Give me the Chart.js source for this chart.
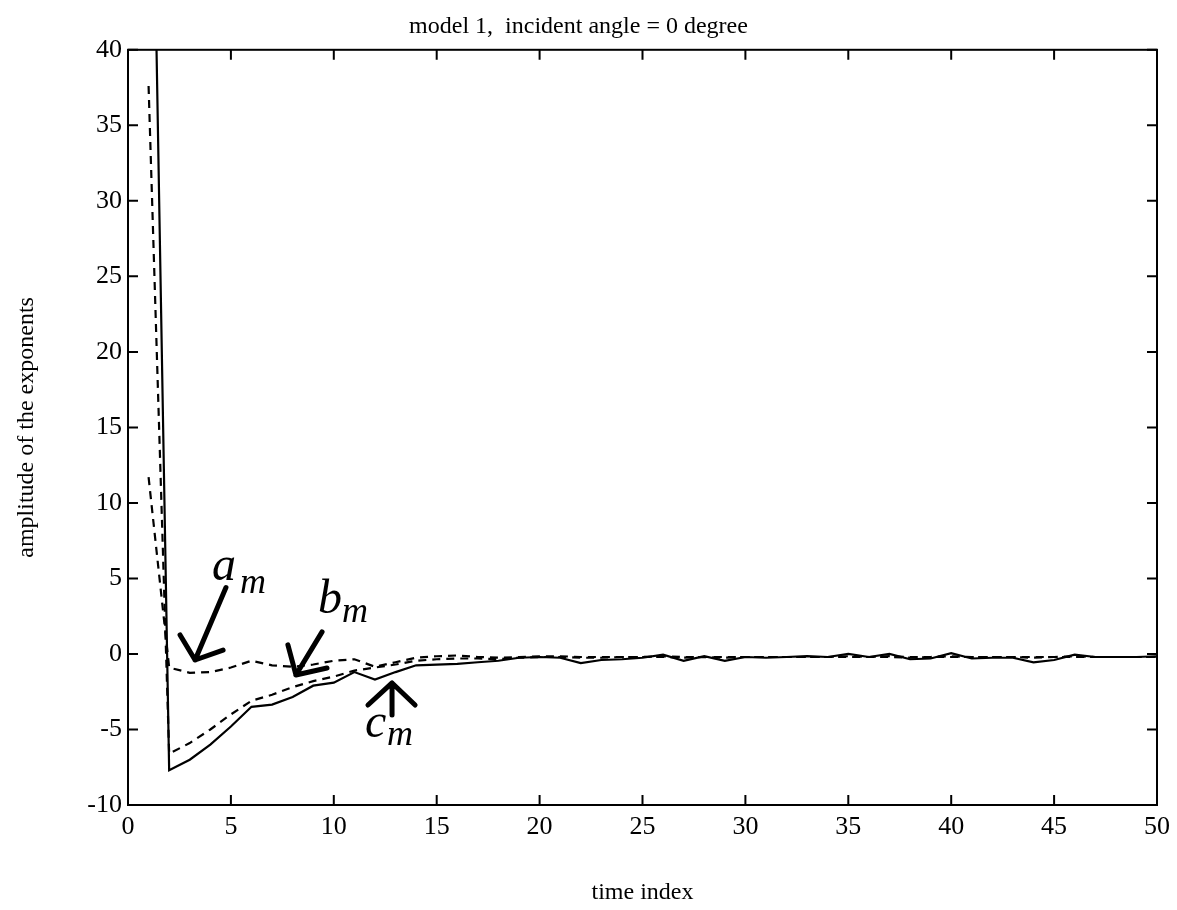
<!DOCTYPE html>
<html><head><meta charset="utf-8">
<script src="https://cdn.jsdelivr.net/npm/chart.js@4.4.1/dist/chart.umd.min.js"></script>
<style>html,body{margin:0;padding:0;background:#fff;}</style>
</head><body>
<canvas id="c" width="1177" height="910" style="display:block;width:1177px;height:910px"></canvas>
<script>
// ---- data ----
const timeIndex = [1,2,3,4,5,6,7,8,9,10,11,12,13,14,15,16,17,18,19,20,21,22,23,24,25,26,27,28,29,30,31,32,33,34,35,36,37,38,39,40,41,42,43,44,45,46,47,48,49,50];
const amValues = [11.7,-0.9,-1.25,-1.2,-0.9,-0.45,-0.75,-0.85,-0.7,-0.45,-0.35,-0.85,-0.55,-0.25,-0.15,-0.1,-0.2,-0.25,-0.2,-0.15,-0.15,-0.2,-0.2,-0.2,-0.2,-0.15,-0.2,-0.2,-0.2,-0.2,-0.2,-0.2,-0.2,-0.2,-0.15,-0.2,-0.15,-0.2,-0.2,-0.15,-0.2,-0.2,-0.2,-0.2,-0.2,-0.15,-0.2,-0.2,-0.2,-0.2];
const bmValues = [37.6,-6.6,-5.9,-5.0,-4.0,-3.1,-2.7,-2.2,-1.8,-1.5,-1.1,-0.9,-0.7,-0.45,-0.35,-0.3,-0.3,-0.35,-0.25,-0.2,-0.2,-0.25,-0.25,-0.2,-0.2,-0.2,-0.25,-0.2,-0.25,-0.2,-0.2,-0.2,-0.2,-0.2,-0.2,-0.2,-0.2,-0.25,-0.2,-0.2,-0.2,-0.2,-0.2,-0.25,-0.2,-0.2,-0.2,-0.2,-0.2,-0.2];
const cmValues = [70,-7.7,-7.0,-6.0,-4.8,-3.5,-3.35,-2.85,-2.1,-1.9,-1.2,-1.7,-1.2,-0.75,-0.7,-0.65,-0.55,-0.45,-0.25,-0.2,-0.25,-0.6,-0.4,-0.35,-0.25,-0.05,-0.45,-0.15,-0.45,-0.2,-0.25,-0.2,-0.15,-0.2,0.0,-0.2,0.0,-0.35,-0.3,0.05,-0.3,-0.25,-0.25,-0.55,-0.4,-0.05,-0.2,-0.2,-0.2,-0.15];
const xTickValues = [0,5,10,15,20,25,30,35,40,45,50];
const yTickValues = [-10,-5,0,5,10,15,20,25,30,35,40];
const titleText = 'model 1,  incident angle = 0 degree';
const xTitle = 'time index';
const yTitle = 'amplitude of the exponents';

// hand-drawn annotation labels (data coordinates)
const labelLetters = ['a','b','c'];
const labelLetterPos = [[4.08,4.9],[9.23,2.72],[11.52,-5.5]];
const labelSubPos = [[5.44,4.05],[10.4,2.12],[12.58,-6.03]];
// arrows: [shaftStart, tip], heads
const arrowShafts = [[[4.76,4.4],[3.26,-0.40]],[[9.43,1.46],[8.16,-1.39]],[[12.83,-4.04],[12.83,-1.92]]];
const arrowHeads = [[[2.53,1.26],[4.62,0.26]],[[7.77,0.6],[9.67,-0.93]],[[11.66,-3.38],[13.95,-3.38]]];

const toPts = (ys) => timeIndex.map((x,i)=>({x:x,y:ys[i]}));
const serif = '"Liberation Serif", "DejaVu Serif", serif';

const frameTicks = {
  id:'frameTicks',
  afterDatasetsDraw(chart){
    const {ctx, chartArea:a, scales:{x,y}} = chart;
    ctx.save();
    ctx.strokeStyle='#000'; ctx.lineWidth=2;
    ctx.strokeRect(a.left,a.top,a.right-a.left,a.bottom-a.top);
    const L=10;
    ctx.beginPath();
    xTickValues.forEach(v=>{const px=x.getPixelForValue(v);
      ctx.moveTo(px,a.bottom);ctx.lineTo(px,a.bottom-L);
      ctx.moveTo(px,a.top);ctx.lineTo(px,a.top+L);});
    yTickValues.forEach(v=>{const py=y.getPixelForValue(v);
      ctx.moveTo(a.left,py);ctx.lineTo(a.left+L,py);
      ctx.moveTo(a.right,py);ctx.lineTo(a.right-L,py);});
    ctx.stroke();
    ctx.restore();
  }
};

const annot = {
  id:'annot',
  afterDatasetsDraw(chart){
    const {ctx, scales:{x,y}} = chart;
    const P = (p)=>[x.getPixelForValue(p[0]), y.getPixelForValue(p[1])];
    ctx.save();
    ctx.strokeStyle='#000'; ctx.lineWidth=5; ctx.lineCap='round'; ctx.lineJoin='round';
    arrowShafts.forEach((s,i)=>{
      const a=P(s[0]), t=P(s[1]), h1=P(arrowHeads[i][0]), h2=P(arrowHeads[i][1]);
      ctx.beginPath();
      ctx.moveTo(a[0],a[1]); ctx.lineTo(t[0],t[1]);
      ctx.moveTo(h1[0],h1[1]); ctx.lineTo(t[0],t[1]); ctx.lineTo(h2[0],h2[1]);
      ctx.stroke();
    });
    ctx.fillStyle='#000'; ctx.textBaseline='alphabetic'; ctx.textAlign='left';
    labelLetters.forEach((l,i)=>{
      const p=P(labelLetterPos[i]);
      ctx.font='italic 48px '+serif;
      ctx.fillText(l,p[0],p[1]);
      const q=P(labelSubPos[i]);
      ctx.font='italic 36px '+serif;
      ctx.fillText('m',q[0],q[1]);
    });
    ctx.restore();
  }
};

new Chart(document.getElementById('c'), {
  type:'line',
  data:{datasets:[
    {label:'a_m', data:toPts(amValues), borderColor:'#000', borderWidth:2.2, borderDash:[8,6], pointRadius:0, tension:0, fill:false},
    {label:'b_m', data:toPts(bmValues), borderColor:'#000', borderWidth:2.2, borderDash:[8,6], pointRadius:0, tension:0, fill:false},
    {label:'c_m', data:toPts(cmValues), borderColor:'#000', borderWidth:2.2, pointRadius:0, tension:0, fill:false}
  ]},
  options:{
    responsive:false, animation:false, devicePixelRatio:1,
    layout:{padding:{left:0,right:20,top:0,bottom:0}},
    plugins:{
      legend:{display:false}, tooltip:{enabled:false},
      title:{display:true, text:titleText, color:'#000', font:{family:serif, size:24, weight:'normal'}, padding:{top:12,bottom:9}}
    },
    scales:{
      x:{type:'linear', min:0, max:50,
        afterFit:(s)=>{s.height=105;},
        afterBuildTicks:(s)=>{s.ticks=xTickValues.map(v=>({value:v}));},
        grid:{display:false, drawTicks:false}, border:{display:false},
        ticks:{color:'#000', padding:7, maxRotation:0, font:{family:serif,size:26}},
        title:{display:true, text:xTitle, color:'#000', font:{family:serif,size:24}, padding:{top:0,bottom:3}}
      },
      y:{type:'linear', min:-10, max:40,
        afterFit:(s)=>{s.width=128;},
        afterBuildTicks:(s)=>{s.ticks=yTickValues.map(v=>({value:v}));},
        grid:{display:false, drawTicks:false}, border:{display:false},
        ticks:{color:'#000', padding:6, font:{family:serif,size:26}},
        title:{display:true, text:yTitle, color:'#000', font:{family:serif,size:24}, padding:{top:12,bottom:0}}
      }
    }
  },
  plugins:[frameTicks, annot]
});
</script>
</body></html>
